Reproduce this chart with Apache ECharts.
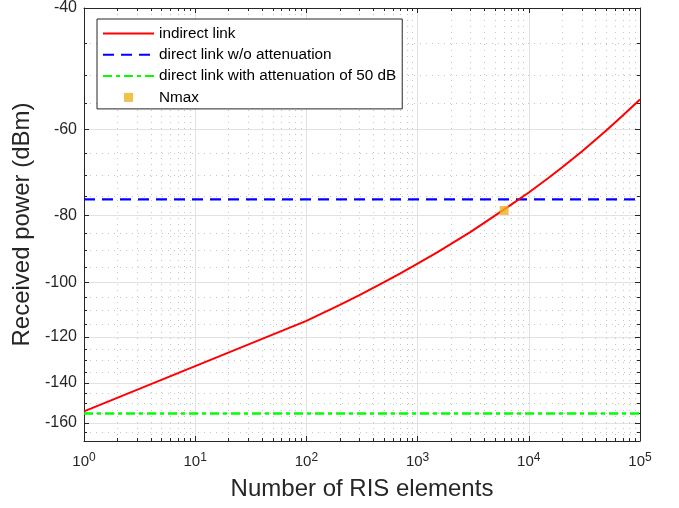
<!DOCTYPE html>
<html><head><meta charset="utf-8">
<script src="https://cdn.jsdelivr.net/npm/echarts@6/dist/echarts.min.js"></script>
<style>html,body{margin:0;padding:0;background:#fff}#c{width:679px;height:508px}</style>
</head><body><div id="c"></div>
<script>
// ---- data ----
const risElements   = [1, 100, 200, 300, 500, 700, 1000, 1500, 2000, 3000, 5000, 7000, 10000, 15000, 20000, 30000, 50000, 70000, 100000];
const indirectPower = [-154.0, -113.8, -107.9, -104.4, -100.0, -97.1, -94.0, -90.5, -88.0, -84.5, -80.0, -77.1, -74.1, -70.6, -68.1, -64.6, -60.2, -57.3, -54.3];
const directNoAttPower = -75.8;
const directAttPower = -155.1;
const nmaxElements = 6000;
const nmaxPower = -78.7;
const seriesNames = ['indirect link', 'direct link w/o attenuation', 'direct link with attenuation of 50 dB', 'Nmax'];
const yTickLabels = [-40, -60, -80, -100, -120, -140, -160];
const yMinorTicks = [-45, -50, -55, -65, -70, -75, -85, -90, -95, -105, -110, -115, -125, -130, -135, -145, -150, -155, -165];
const xTickExponents = [0, 1, 2, 3, 4, 5];
const xMinorMultipliers = [2, 3, 4, 5, 6, 7, 8, 9];
const xRange = [1, 100000];
const yRange = [-170, -40];

// ---- transforms: x = log10(N), y = log10(|P|) ----
const lx = v => Math.log10(v);
const ly = v => Math.log10(-v);
const xMajor = xTickExponents.slice();
const xMinor = [];
for (let d = xTickExponents[0]; d < xTickExponents[xTickExponents.length - 1]; d++) {
  xMinorMultipliers.forEach(m => xMinor.push(lx(m * Math.pow(10, d))));
}
const yMajor = yTickLabels.map(ly);
const yMinor = yMinorTicks.map(ly);

const FONT = '"Liberation Sans", Arial, Helvetica, sans-serif';
const AX = '#262626';
const MAJ = '#e2e2e2';
const MIN = '#c4c4c4';

const xBase = {type: 'value', min: lx(xRange[0]), max: lx(xRange[1])};
const yBase = {type: 'value', min: ly(yRange[1]), max: ly(yRange[0]), inverse: true};

function axisSet(base, posA, posB, major, minor, isX) {
  const line = {show: true, onZero: false, lineStyle: {color: AX, width: 1}};
  const noLine = {show: false, onZero: false};
  const mainLabel = isX ? {
    show: true, customValues: major, margin: 11, color: AX,
    formatter: v => '{b|10}{s|' + Math.round(v) + '}',
    rich: {
      b: {fontFamily: FONT, fontSize: 15, lineHeight: 15, padding: [4, 0, 0, 0], color: AX},
      s: {fontFamily: FONT, fontSize: 12, lineHeight: 12, verticalAlign: 'top', color: AX}
    }
  } : {
    show: true, customValues: major, margin: 7, color: AX, fontFamily: FONT, fontSize: 16,
    formatter: v => '-' + Math.round(Math.pow(10, v))
  };
  return [
    Object.assign({}, base, {position: posA, axisLine: line,
      axisTick: {show: true, inside: true, length: 5, customValues: major, lineStyle: {color: AX}},
      axisLabel: mainLabel,
      splitLine: {show: true, lineStyle: {color: MAJ, width: 1}}}),
    Object.assign({}, base, {position: posA, axisLine: noLine,
      axisTick: {show: true, inside: true, length: 3, customValues: minor, lineStyle: {color: AX}},
      axisLabel: {show: false},
      splitLine: {show: true, lineStyle: {color: MIN, width: 1, type: [1, 5]}}}),
    Object.assign({}, base, {position: posB, axisLine: line,
      axisTick: {show: true, inside: true, length: 5, customValues: major, lineStyle: {color: AX}},
      axisLabel: {show: false}, splitLine: {show: false}}),
    Object.assign({}, base, {position: posB, axisLine: noLine,
      axisTick: {show: true, inside: true, length: 3, customValues: minor, lineStyle: {color: AX}},
      axisLabel: {show: false}, splitLine: {show: false}})
  ];
}

const xAxes = axisSet(xBase, 'bottom', 'top', xMajor, xMinor, true);
Object.assign(xAxes[0], {name: 'Number of RIS elements', nameLocation: 'middle', nameGap: 36,
  nameTextStyle: {fontFamily: FONT, fontSize: 24, color: AX}});
const yAxes = axisSet(yBase, 'left', 'right', yMajor, yMinor, false);
Object.assign(yAxes[0], {name: 'Received power (dBm)', nameLocation: 'middle', nameGap: 47,
  nameTextStyle: {fontFamily: FONT, fontSize: 24, color: AX}});

const indirectData = risElements.map((n, i) => [lx(n), ly(indirectPower[i])]);
const noAttData = [[lx(xRange[0]), ly(directNoAttPower)], [lx(xRange[1]), ly(directNoAttPower)]];
const attData = [[lx(xRange[0]), ly(directAttPower)], [lx(xRange[1]), ly(directAttPower)]];

const hideDot = {opacity: 0};
const chart = echarts.init(document.getElementById('c'), null, {renderer: 'canvas'});
chart.setOption({
  animation: false,
  backgroundColor: '#fff',
  grid: {left: 84, right: 39, top: 8, bottom: 67, containLabel: false},
  xAxis: xAxes,
  yAxis: yAxes,
  legend: {
    orient: 'vertical', left: 97, top: 19, padding: [7, 6, 4, 5], itemGap: 6.3,
    itemWidth: 51, itemHeight: 9, backgroundColor: '#fff', borderColor: AX, borderWidth: 1,
    selectedMode: false,
    textStyle: {fontFamily: FONT, fontSize: 15.3, color: '#000'},
    data: [
      {name: seriesNames[0], itemStyle: hideDot},
      {name: seriesNames[1], itemStyle: hideDot},
      {name: seriesNames[2], itemStyle: hideDot},
      {name: seriesNames[3], icon: 'path://M0 0H10V10H0Z'}
    ]
  },
  series: [
    {name: seriesNames[0], type: 'line', data: indirectData, symbol: 'none', smooth: false,
      lineStyle: {color: '#ff0000', width: 2}, itemStyle: {color: '#ff0000'}, z: 3},
    {name: seriesNames[1], type: 'line', data: noAttData, symbol: 'none',
      lineStyle: {color: '#0000ff', width: 2.2, type: [11, 7]}, itemStyle: {color: '#0000ff'}, z: 2},
    {name: seriesNames[2], type: 'line', data: attData, symbol: 'none',
      lineStyle: {color: '#00ff00', width: 2.6, type: [9, 4, 4, 4]}, itemStyle: {color: '#00ff00'}, z: 2},
    {name: seriesNames[3], type: 'scatter', data: [[lx(nmaxElements), ly(nmaxPower)]], symbol: 'rect',
      symbolSize: 9, itemStyle: {color: '#edb120'}, z: 4}
  ]
});
</script></body></html>
